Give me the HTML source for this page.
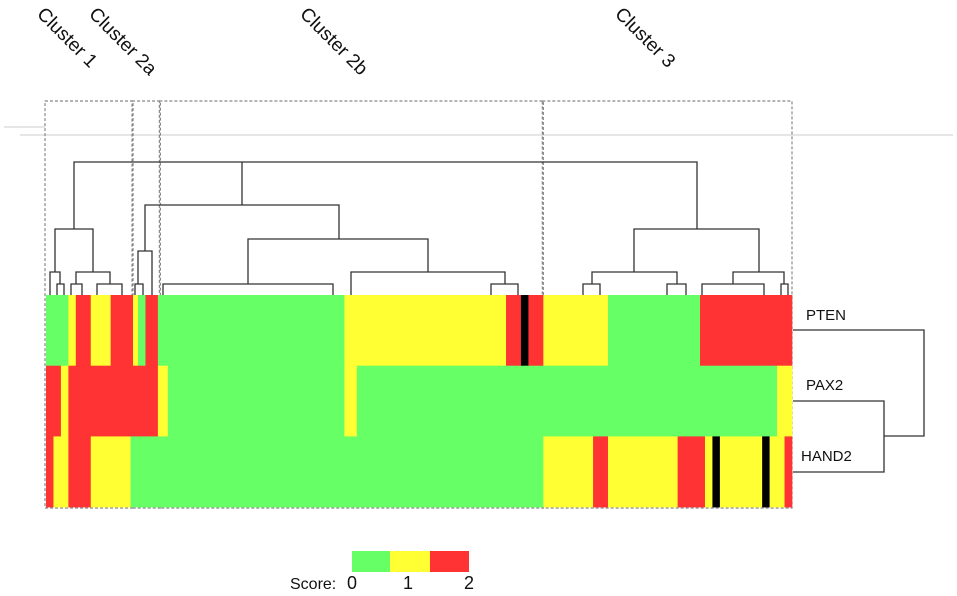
<!DOCTYPE html>
<html><head><meta charset="utf-8"><style>
html,body{margin:0;padding:0;background:#fff;}
svg{display:block;font-family:"Liberation Sans",Arial,sans-serif;}
</style></head><body>
<svg id="chart" width="957" height="596" viewBox="0 0 957 596">
<g id="labels"></g>
<g id="frames"></g>
<g id="heat"></g>
<g id="dendro" stroke="#333" stroke-width="1.3" fill="none"></g>
<g id="rowdendro" stroke="#333" stroke-width="1.3" fill="none"></g>
<g id="rowlabels"></g>
<g id="legend"></g>
</svg>
<script>
const NS="http://www.w3.org/2000/svg";
// Data
const genes=["PTEN","PAX2","HAND2"];
const nSamples=300;
const scoreLevels=[0,1,2];
const scoreColors={"-1":"#000000","0":"#66ff66","1":"#ffff33","2":"#ff3333"};
// run-length rows: [score, endSample]
const runsPTEN=[[0,9],[1,12],[2,18],[1,26],[2,35],[1,37],[0,40],[2,45],[0,120],[1,185],[2,191],[-1,194],[2,200],[1,226],[0,263],[2,300]];
const runsPAX2=[[2,6],[1,9],[2,45],[1,49],[0,120],[1,125],[0,294],[1,300]];
const runsHAND2=[[2,3],[1,9],[2,18],[1,34],[0,200],[1,220],[2,226],[1,254],[2,265],[1,268],[-1,271],[1,288],[-1,291],[1,297],[2,300]];
const rows=[runsPTEN,runsPAX2,runsHAND2];
const clusterNames=["Cluster 1","Cluster 2a","Cluster 2b","Cluster 3"];
const clusterBounds=[0,35,46,200,300];
const clusterLabelX=[36,88,299,614];

const X0=46,X1=792,Y0=295,rowH=70.7;
const sx=s=>X0+(X1-X0)*s/nSamples;
function el(tag,attrs,parent,txt){const e=document.createElementNS(NS,tag);for(const k in attrs)e.setAttribute(k,attrs[k]);if(txt!==undefined)e.textContent=txt;parent.appendChild(e);return e;}

// heatmap
const heat=document.getElementById('heat');
rows.forEach((runs,ri)=>{let start=0;runs.forEach(([sc,end])=>{
 const r=el('rect',{x:sx(start),y:Y0+ri*rowH,width:sx(end)-sx(start)+0.3,height:rowH+0.3,fill:scoreColors[sc]},heat);
 
 
 start=end;});});

// frames
const fr=document.getElementById('frames');
el('line',{x1:4,y1:127,x2:45,y2:127,stroke:"#ccc","stroke-width":1},fr);
el('line',{x1:20,y1:135,x2:953,y2:135,stroke:"#ccc","stroke-width":1},fr);
for(let i=0;i<clusterNames.length;i++){
 const r=el('rect',{x:sx(clusterBounds[i])-1,y:101,width:sx(clusterBounds[i+1])-sx(clusterBounds[i])+1,height:407,fill:"none",stroke:"#888","stroke-width":1.2,"stroke-dasharray":"3,2"},fr);
 
 
}
const lg=document.getElementById('labels');
clusterNames.forEach((n,i)=>{const t=el('text',{x:clusterLabelX[i],y:15,"font-size":"19",transform:`rotate(45 ${clusterLabelX[i]} 15)`,fill:"#111"},lg,n);
 
 });

// sample dendrogram: [xLeft, xRight, yMerge, yLeftChild, yRightChild]
const dendroNodes=[
[74,697,162,229,229],[55,93,229,272,272],[50,60,272,295,284],[57,64,284,295,295],[76,110,272,284,284],[71,82,284,295,295],[97,122,284,295,295],
[145,339,205,251,239],[138,152,251,284,295],[135,143,284,295,295],[248,428,239,284,272],[163,333,284,295,295],[351,505,272,295,284],[491,518,284,295,295],
[634,759,229,272,272],[592,677,272,284,284],[583,600,284,295,295],[667,686,284,295,295],[733,784,272,284,284],[702,764,284,295,295],[781,788,284,295,295]];
const dg=document.getElementById('dendro');
dendroNodes.forEach(([a,b,y,ya,yb])=>{el('path',{d:`M${a} ${ya}V${y}H${b}V${yb}`},dg);});
el('line',{x1:242,y1:162,x2:242,y2:205},dg);

// row dendrogram
const rd=document.getElementById('rowdendro');
el('path',{d:"M793 401H884V472H793"},rd);
el('path',{d:"M793 330H924V436H884"},rd);
const rl=document.getElementById('rowlabels');
[[806,320],[806,390],[801,461]].forEach(([x,y],i)=>{const t=el('text',{x:x,y:y,"font-size":"15",fill:"#111"},rl,genes[i]);
 
 });

// legend
const L=document.getElementById('legend');
const t0=el('text',{x:290,y:589,"font-size":"16",fill:"#111"},L,"Score:");
const lx=[352,390,430,469];
scoreLevels.forEach((s,i)=>{const r=el('rect',{x:lx[i],y:551,width:lx[i+1]-lx[i],height:21,fill:scoreColors[s]},L);
 
 });
[[352,"0"],[408,"1"],[469,"2"]].forEach(([x,s])=>{const t=el('text',{x:x,y:589,"font-size":"18","text-anchor":"middle",fill:"#111"},L,s);
 
 });
</script>
</body></html>
